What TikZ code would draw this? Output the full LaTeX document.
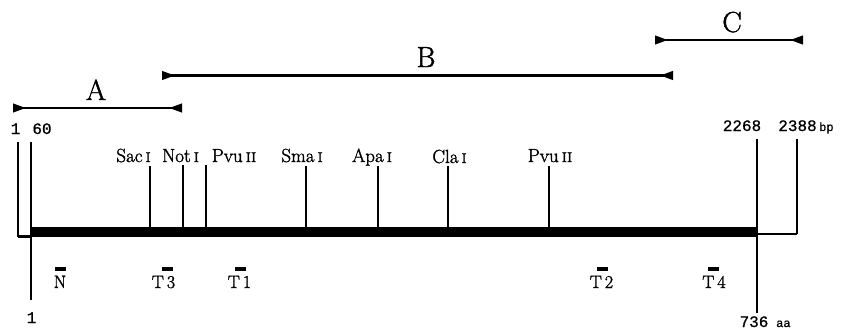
\documentclass[tikz,border=0pt]{standalone}
\usepackage{fontspec}
\setmainfont{Latin Modern Roman}[FakeBold=1.5]
\newfontfamily\numfont{Liberation Mono}[FakeBold=0.8]
\newcommand{\rn}[1]{{\fontsize{14}{14}\selectfont #1}}
\usetikzlibrary{arrows.meta}
\begin{document}
\begin{tikzpicture}[x=1pt,y=-1pt,
  site/.style={line width=2.8pt},
  endline/.style={line width=2.8pt},
  thinline/.style={line width=2.2pt},
  mainbar/.style={line width=10pt},
  region/.style={line width=2.4pt,
    {Triangle[reversed,length=13pt,width=8.5pt]}-{Triangle[reversed,length=13pt,width=8.5pt]}},
  enz/.style={font=\fontsize{19}{21}\selectfont, anchor=base, inner sep=0pt},
  reg/.style={font=\fontsize{29}{32}\selectfont, anchor=base, inner sep=0pt},
  num/.style={font=\fontsize{16}{18}\selectfont\numfont, anchor=base, inner sep=0pt},
  small/.style={font=\fontsize{12}{14}\selectfont\numfont, anchor=base west, inner sep=0pt},
  pep/.style={font=\fontsize{18}{20}\selectfont, anchor=base, inner sep=0pt},
  pbar/.style={fill=black, minimum width=11pt, minimum height=4pt, inner sep=0pt},
]
\useasboundingbox (0,0) rectangle (844,330);

% --- region arrows A, B, C ---
\coordinate (Aleft) at (13,108);  \coordinate (Aright) at (182,108);
\coordinate (Bleft) at (162,75.5); \coordinate (Bright) at (673,75.5);
\coordinate (Cleft) at (655,40);  \coordinate (Cright) at (803,40);
\draw[region] (Aleft) -- (Aright);
\draw[region] (Bleft) -- (Bright);
\draw[region] (Cleft) -- (Cright);
\node[reg] (labA) at (96,100) {A};
\node[reg] (labB) at (426,67) {B};
\node[reg] (labC) at (732,32) {C};

% --- gene map ---
\coordinate (n1top) at (18,142);   \coordinate (n1bot) at (18,236.5);
\coordinate (n60top) at (31,142);  \coordinate (n60bot) at (31,300);
\coordinate (n60bar) at (31,236.5);
\coordinate (barL) at (31,232);    \coordinate (barR) at (757,232);
\coordinate (e2268top) at (757,139); \coordinate (e2268bot) at (757,313);
\coordinate (e2268bar) at (757,234);
\coordinate (e2388top) at (797,139); \coordinate (e2388bot) at (797,234);

\draw[mainbar] (barL) -- (barR);
\draw[endline] (n1top) -- (n1bot);
\draw[thinline] (n1bot) -- (n60bar);
\draw[endline] (n60top) -- (n60bot);
\draw[endline] (e2268top) -- (e2268bot);
\draw[endline] (e2388top) -- (e2388bot);
\draw[thinline] (e2268bar) -- (e2388bot);

% --- restriction sites ---
\foreach \nm/\x/\ty in {sac/150/166, not/183/165, pvuA/206/165, sma/306/166,
                        apa/378/166, cla/448/166, pvuB/549/166}{
  \coordinate (\nm top) at (\x,\ty);
  \coordinate (\nm bot) at (\x,228);
  \draw[site] (\nm top) -- (\nm bot);
}
\node[enz] (tsac)  at (133.5,162) {Sac\,\rn{I}};
\node[enz] (tnot)  at (180.5,162) {Not\,\rn{I}};
\node[enz] (tpvuA) at (234,162)   {Pvu\,\rn{II}};
\node[enz] (tsma)  at (302,162)   {Sma\,\rn{I}};
\node[enz] (tapa)  at (372,162)   {Apa\,\rn{I}};
\node[enz] (tcla)  at (449.5,163) {Cla\,\rn{I}};
\node[enz] (tpvuB) at (550,162)   {Pvu\,\rn{II}};

% --- coordinates ---
\node[num] (t1)    at (15.5,134) {1};
\node[num] (t60)   at (42,134)   {60};
\node[num] (t2268) at (742,131)  {2268};
\node[num] (t2388) at (797.5,131) {2388};
\node[small] (tbp) at (819,131)  {bp};
\node[num] (b1)    at (31.5,323) {1};
\node[num] (b736)  at (754,327)  {736};
\node[small] (taa) at (776,327)  {aa};

% --- peptide markers ---
\node[pbar] (barN)  at (60,268.5) {};
\node[pbar] (barT3) at (167.5,268.5) {};
\node[pbar] (barT1) at (240,268.5) {};
\node[pbar] (barT2) at (602.5,268.5) {};
\node[pbar] (barT4) at (713.5,268.5) {};
\node[pep] (pN)  at (60,288)    {N};
\node[pep] (pT3) at (163.5,288) {T\hspace{3pt}3};
\node[pep] (pT1) at (239.5,288) {T\hspace{3pt}1};
\node[pep] (pT2) at (601.5,288) {T\hspace{3pt}2};
\node[pep] (pT4) at (714,288)   {T\hspace{3pt}4};
\end{tikzpicture}
\end{document}
